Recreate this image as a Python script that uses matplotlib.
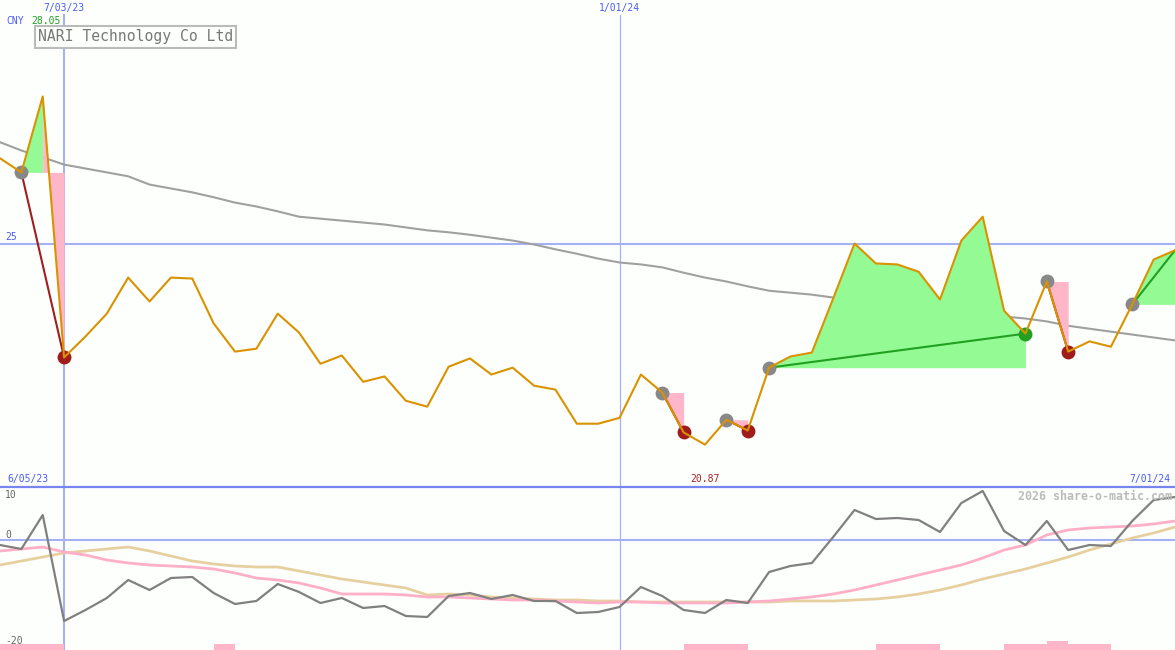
import matplotlib
matplotlib.use('Agg')
import matplotlib.pyplot as plt
from matplotlib.transforms import blended_transform_factory

# weekly closes (CNY), one point per week
price = [26.75, 26.46, 28.02, 22.66, 23.09, 23.56, 24.30, 23.81, 24.30, 24.28,
         23.36, 22.78, 22.84, 23.56, 23.17, 22.53, 22.70, 22.16, 22.27, 21.77,
         21.65, 22.47, 22.64, 22.31, 22.45, 22.08, 22.00, 21.30, 21.30, 21.42,
         22.31, 21.94, 21.12, 20.87, 21.38, 21.16, 22.45, 22.68, 22.76, 23.87,
         25.00, 24.59, 24.57, 24.42, 23.85, 25.06, 25.55, 23.62, 23.15, 24.22,
         22.78, 22.99, 22.88, 23.75, 24.67, 24.86]

# long moving average
ma = [27.08, 26.91, 26.77, 26.62, 26.54, 26.46, 26.38, 26.21, 26.13, 26.05,
      25.95, 25.84, 25.76, 25.66, 25.55, 25.51, 25.47, 25.43, 25.39, 25.33,
      25.27, 25.23, 25.18, 25.12, 25.06, 24.98, 24.88, 24.79, 24.69, 24.61,
      24.57, 24.51, 24.40, 24.30, 24.22, 24.12, 24.03, 23.99, 23.95, 23.89,
      23.85, 23.81, 23.77, 23.73, 23.66, 23.60, 23.56, 23.50, 23.46, 23.40,
      23.31, 23.25, 23.19, 23.13, 23.07, 23.01]

# lower panel oscillator + two smoothed lines
osc = [-1.25, -2.25, 6.25, -20.25, -17.5, -14.5, -10, -12.5, -9.5, -9.25,
       -13.25, -16, -15.25, -11, -13, -15.75, -14.5, -17, -16.5, -19,
       -19.25, -14, -13.25, -14.75, -13.75, -15.25, -15.25, -18.25, -18, -16.75,
       -11.75, -14, -17.5, -18.25, -15, -15.75, -8, -6.5, -5.75, 0.75,
       7.5, 5.25, 5.5, 5, 2, 9.25, 12.25, 2.25, -1.25, 4.75,
       -2.5, -1.25, -1.5, 4.75, 10, 10.75]
osc_fast = [-2.75, -2.25, -1.75, -3, -3.75, -5, -5.75, -6.25, -6.5, -6.75,
            -7.25, -8.25, -9.5, -10, -10.75, -12, -13.5, -13.5, -13.5, -13.75,
            -14.25, -14.25, -14.5, -14.75, -15, -15, -15.25, -15.5, -15.75, -15.5,
            -15.5, -15.75, -15.75, -15.75, -15.75, -15.5, -15.25, -14.75, -14.25, -13.5,
            -12.5, -11.25, -10, -8.75, -7.5, -6.25, -4.5, -2.5, -1.25, 1.25,
            2.5, 3, 3.25, 3.5, 4, 4.75]
osc_slow = [-6.25, -5.25, -4.25, -3.25, -2.75, -2.25, -1.75, -2.75, -4, -5.25,
            -6, -6.5, -6.75, -6.75, -7.75, -8.75, -9.75, -10.5, -11.25, -12,
            -13.75, -13.5, -13.75, -14.25, -14.5, -14.75, -15, -15, -15.25, -15.25,
            -15.5, -15.5, -15.5, -15.5, -15.5, -15.5, -15.5, -15.25, -15.25, -15.25,
            -15, -14.75, -14.25, -13.5, -12.5, -11.25, -9.75, -8.5, -7.25, -5.75,
            -4.25, -2.5, -1, 0.5, 1.75, 3.25]

# signals: (entry week, exit week, outcome)
signals = [(1, 3, 'loss'), (31, 32, 'loss'), (34, 35, 'loss'),
           (36, 48, 'win'), (49, 50, 'loss'), (53, 55, 'open')]

# pink blocks along the bottom of the lower panel
block_start = [0, 10, 32, 41, 47, 49]
block_end = [3, 11, 35, 44, 52, 50]
block_height = [1.5, 1.5, 1.5, 1.5, 1.5, 2.25]

date_weeks = [3, 29]
date_labels = ['7/03/23', '1/01/24']
first_label, last_label = '6/05/23', '7/01/24'
high_label, low_label = '28.05', '20.87'
low_week = 33

W, H = 1175, 650
BG = '#fdfffd'
BLUE = '#4a5cf0'
GRID = '#a4b2f2'
ORANGE = '#d99200'
GREEN_FILL = '#94fa94'
PINK = '#ffb6c8'

weeks = list(range(len(price)))

fig = plt.figure(figsize=(W / 100, H / 100), dpi=100, facecolor=BG)
ax = fig.add_axes([0, 163 / H, 1, 487 / H], facecolor=BG)
ax2 = fig.add_axes([0, 0, 1, 163 / H], facecolor=BG)

for a in (ax, ax2):
    a.set_xlim(0, len(price) - 1)
    a.set_xticks([])
    a.set_yticks([])
    for s in a.spines.values():
        s.set_visible(False)

ax.set_ylim(20, 30)
ax2.set_ylim(-27.5, 13.25)
ax2.spines['top'].set_visible(True)
ax2.spines['top'].set_color('#7686ee')
ax2.spines['top'].set_linewidth(1.6)

# grid lines
ax.axhline(25, color=GRID, lw=1.5, zorder=1)
ax2.axhline(0, color=GRID, lw=1.5, zorder=1)
for wk, w in zip(date_weeks, [1.5, 0.9]):
    ax.axvline(wk, ymax=1 - 15 / 487, color=GRID, lw=w, zorder=1)
    ax2.axvline(wk, color=GRID, lw=w, zorder=1)

# moving average
ax.plot(weeks, ma, color='#a0a0a0', lw=1.5, zorder=2)

# signal overlays
for s, e, kind in signals:
    entry = price[s]
    xs = weeks[s:e + 1]
    ys = price[s:e + 1]
    if kind == 'loss':
        if e - s > 1:
            ax.fill_between(xs[:-1], ys[:-1], entry, color=GREEN_FILL, lw=0, zorder=2)
        ax.fill_between(xs[-2:], ys[-2:], entry, color=PINK, lw=0, zorder=2)
        ax.plot([s, e], [entry, price[e]], color='#a01e1e', lw=1.5, zorder=3)
    else:
        ax.fill_between(xs, ys, entry, color=GREEN_FILL, lw=0, zorder=2)
        ax.plot([s, e], [entry, price[e]], color='#22a022', lw=1.5, zorder=3)

for s, e, kind in signals:
    ax.plot(s, price[s], 'o', color='#888888', ms=10, mew=0, zorder=4)
    if kind == 'loss':
        ax.plot(e, price[e], 'o', color='#a01c1c', ms=10, mew=0, zorder=4)
    elif kind == 'win':
        ax.plot(e, price[e], 'o', color='#22a022', ms=10, mew=0, zorder=4)

ax.plot(weeks, price, color=ORANGE, lw=1.5, zorder=5)

# lower panel
ax2.plot(weeks, osc_slow, color='#e6d0a0', lw=2, zorder=2)
ax2.plot(weeks, osc_fast, color='#ffb0c8', lw=2, zorder=3)
ax2.plot(weeks, osc, color='#808080', lw=1.6, zorder=4)
ax2.bar(block_start, block_height, width=[e - s for s, e in zip(block_start, block_end)],
        bottom=-27.5, align='edge', color=PINK, lw=0, zorder=1)

# texts (pixel positions from top-left)
mono = 'DejaVu Sans Mono'


def ptext(x, y, s, **kw):
    kw.setdefault('family', mono)
    kw.setdefault('size', 7)
    kw.setdefault('va', 'center')
    fig.text(x / W, 1 - y / H, s, **kw)


tx = blended_transform_factory(ax.transData, fig.transFigure)
for wk, lab in zip(date_weeks, date_labels):
    fig.text(wk, 1 - 8 / H, lab, transform=tx, ha='center', va='center',
             family=mono, size=7, color=BLUE)
fig.text(low_week, 1 - 479 / H, low_label, transform=tx, ha='center', va='center',
         family=mono, size=7, color='#aa2222')

ptext(6, 21, 'CNY', color=BLUE)
ptext(31, 21, high_label, color='#22a022')
ptext(38, 37, 'NARI Technology Co Ltd', size=10.6, color='#777777',
      bbox=dict(boxstyle='square,pad=0.22', fc=BG, ec='#bbbbbb', lw=1.5))
ptext(5, 237, '25', color=BLUE)
ptext(7, 479, first_label, color=BLUE)
ptext(1170, 479, last_label, color=BLUE, ha='right')
ptext(5, 495, '10', color='#666666')
ptext(5, 535, '0', color='#666666')
ptext(5, 641, '-20', color='#666666')
ptext(1172, 496, '2026 share-o-matic.com', size=8.4, color='#bbbbbb',
      weight='bold', ha='right')

fig.savefig('out.png', dpi=100, facecolor=BG)
